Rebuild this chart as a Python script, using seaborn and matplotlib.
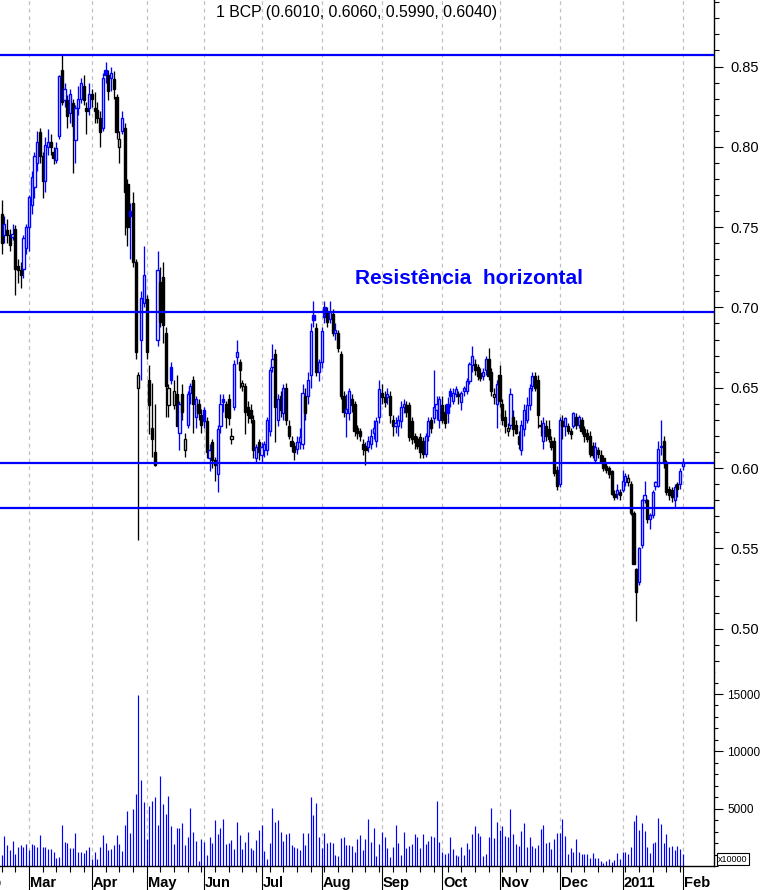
import numpy as np
import pandas as pd
import matplotlib
matplotlib.use("Agg")
import matplotlib.pyplot as plt
import matplotlib.transforms as mtransforms
from matplotlib.ticker import MultipleLocator, FixedLocator, FormatStrFormatter, NullFormatter
import seaborn as sns

# ---------------- data ----------------
opens = [
    .758, .745, .748, .745, .744, .749, .726, .723, .724, .737,
    .750, .764, .775, .790, .809, .794, .779, .800, .803, .797, .792, .807, .848, .829, .829, .821, .827, .804, .824, .830, .838, .824, .824,
    .833, .824, .823, .818, .812, .848, .845, .843, .842, .831, .800, .810, .812, .777, .760, .765, .728, .650, .680, .703,
    .705, .655, .625, .610, .680, .716, .719, .684, .639, .663, .639, .646, .622, .646, .611, .627, .647, .655, .632, .640, .633,
    .636, .629, .606, .616, .605, .596, .626, .643, .640, .643, .618, .638, .669, .666, .651, .651, .638, .636, .630, .606, .616,
    .608, .611, .611, .623, .663, .671, .630, .645, .634, .650, .626, .617, .614, .612, .616, .615, .645, .645, .658, .695, .687, .660,
    .666, .700, .697, .693, .696, .684, .684, .671, .645, .634, .634, .643, .640, .625, .623, .615, .614, .613, .615, .622, .617, .632,
    .647, .644, .644, .645, .630, .626, .626, .629, .638, .639, .639, .629, .620, .618, .619, .617, .609, .620, .630, .631, .636, .630,
    .639, .635, .640, .648, .642, .646, .646, .641, .648, .648, .654, .664, .665, .663, .659, .657, .661, .668, .660, .644, .640,
    .658, .640, .632, .623, .627, .632, .627, .620, .611, .624, .630, .639, .651, .657, .655, .626, .617, .626, .624, .617, .617, .599,
    .590, .629, .626, .626, .623, .626, .632, .627, .630, .624, .622, .620, .614, .605, .611, .608, .606, .601, .600, .598, .584, .584, .585,
    .586, .591, .591, .590, .572, .537, .529, .552, .580, .580, .568, .571, .589, .589, .614, .617, .603, .587, .586, .580, .590, .590,
    .601,
]
highs = [
    .767, .757, .755, .749, .752, .751, .730, .728, .745, .752,
    .770, .785, .797, .810, .812, .797, .806, .811, .808, .800, .803, .845, .858, .840, .832, .836, .830, .826, .838, .843, .845, .828, .840,
    .836, .834, .828, .822, .846, .853, .848, .850, .847, .833, .810, .822, .815, .780, .765, .772, .730, .660, .710, .738,
    .708, .664, .653, .640, .735, .725, .728, .688, .652, .666, .655, .658, .642, .652, .622, .648, .653, .657, .645, .643, .637,
    .638, .632, .615, .618, .607, .627, .646, .646, .642, .646, .625, .667, .680, .668, .655, .653, .642, .640, .633, .615, .618,
    .616, .617, .632, .663, .677, .674, .646, .648, .652, .653, .630, .620, .616, .620, .625, .652, .650, .660, .690, .704, .690, .668,
    .688, .704, .700, .704, .699, .690, .686, .673, .648, .646, .650, .646, .642, .627, .625, .618, .616, .620, .624, .630, .632, .655,
    .652, .648, .650, .648, .633, .632, .633, .642, .643, .642, .641, .632, .622, .620, .622, .619, .622, .632, .632, .661, .645, .645,
    .645, .640, .644, .650, .650, .651, .648, .648, .651, .656, .666, .676, .668, .665, .662, .662, .670, .675, .662, .650, .655,
    .664, .643, .636, .628, .650, .636, .630, .623, .630, .640, .644, .652, .660, .660, .658, .630, .632, .630, .630, .620, .619, .601,
    .632, .633, .632, .628, .625, .635, .634, .633, .632, .626, .624, .623, .616, .616, .613, .611, .608, .603, .601, .599, .586, .590, .587,
    .599, .597, .596, .592, .573, .538, .551, .581, .592, .581, .572, .586, .592, .617, .630, .620, .605, .589, .588, .590, .591, .600,
    .606,
]
lows = [
    .733, .740, .740, .735, .742, .708, .715, .712, .718, .733,
    .735, .758, .768, .785, .790, .768, .772, .795, .795, .789, .790, .805, .826, .825, .812, .815, .784, .790, .820, .827, .826, .808, .820,
    .825, .815, .815, .800, .810, .840, .829, .835, .830, .805, .790, .808, .745, .738, .730, .725, .668, .555, .655, .700,
    .668, .621, .607, .601, .676, .688, .678, .632, .632, .652, .637, .626, .611, .630, .607, .625, .640, .622, .625, .630, .622,
    .625, .606, .598, .600, .592, .585, .622, .635, .625, .627, .615, .636, .665, .650, .648, .621, .628, .628, .606, .604, .605,
    .604, .607, .608, .620, .660, .616, .626, .632, .630, .627, .618, .610, .605, .609, .612, .612, .630, .640, .650, .688, .657, .654,
    .662, .690, .688, .690, .682, .680, .672, .643, .632, .619, .630, .635, .620, .618, .617, .608, .602, .610, .612, .618, .613, .628,
    .640, .638, .640, .628, .620, .622, .620, .625, .634, .632, .617, .615, .612, .612, .606, .606, .607, .617, .622, .628, .630, .625,
    .628, .625, .628, .638, .640, .644, .640, .636, .645, .646, .652, .660, .658, .655, .654, .655, .658, .655, .645, .640, .625,
    .638, .627, .622, .620, .624, .620, .621, .612, .608, .620, .628, .636, .648, .648, .625, .620, .612, .617, .616, .611, .595, .586,
    .588, .618, .620, .621, .618, .625, .624, .625, .621, .616, .616, .607, .606, .603, .606, .603, .598, .597, .594, .583, .580, .581, .580,
    .585, .589, .589, .571, .540, .505, .527, .550, .578, .566, .562, .569, .586, .588, .608, .600, .583, .580, .579, .575, .582, .587,
    .599,
]
closes = [
    .740, .752, .745, .739, .746, .724, .723, .720, .743, .750,
    .769, .781, .794, .803, .794, .779, .801, .803, .800, .793, .799, .844, .828, .836, .819, .833, .813, .824, .830, .840, .829, .822, .833,
    .830, .822, .818, .809, .843, .845, .835, .846, .836, .809, .805, .818, .772, .750, .757, .728, .672, .658, .706, .720,
    .672, .639, .618, .602, .723, .691, .689, .651, .650, .655, .648, .626, .640, .635, .618, .646, .651, .640, .643, .634, .627,
    .629, .610, .611, .605, .602, .624, .640, .641, .632, .631, .620, .665, .672, .661, .653, .635, .633, .631, .611, .613, .610,
    .613, .615, .630, .661, .668, .638, .643, .636, .650, .630, .620, .614, .610, .616, .619, .647, .634, .655, .685, .692, .660, .666,
    .685, .694, .691, .697, .684, .686, .675, .645, .635, .637, .648, .639, .623, .622, .620, .612, .611, .617, .620, .625, .629, .649,
    .644, .641, .646, .633, .626, .628, .630, .638, .640, .635, .619, .618, .616, .614, .610, .609, .620, .629, .625, .638, .640, .643,
    .630, .628, .634, .645, .647, .649, .645, .647, .650, .654, .665, .670, .661, .657, .656, .660, .668, .657, .648, .646, .652,
    .642, .630, .626, .625, .646, .624, .622, .615, .627, .636, .639, .650, .657, .650, .633, .627, .628, .620, .618, .613, .597, .589,
    .630, .626, .631, .623, .621, .634, .627, .632, .623, .620, .618, .609, .608, .613, .609, .604, .600, .599, .596, .584, .582, .586, .583,
    .592, .595, .594, .572, .540, .523, .550, .580, .583, .568, .571, .585, .591, .612, .613, .603, .585, .583, .582, .588, .587, .598,
    .604,
]
volumes = [
    957, 2610, 1827, 1392, 2175, 1044, 1653, 1827, 1653, 1914,
    1392, 1914, 1827, 1653, 2697, 1653, 1653, 1479, 1479, 1218,
    696, 783, 3567, 2088, 2001, 1566, 1566, 2871, 1218, 1218,
    1131, 1392, 1653, 609, 1218, 609, 1653, 2697, 2001, 1392,
    1479, 1827, 2697, 1914, 1305, 3567, 4785, 2871, 4959, 6264,
    14877, 7482, 5568, 2349, 5220, 5655, 6003, 3567, 7830, 5394,
    4524, 6090, 3480, 1914, 3306, 3306, 3741, 1827, 2523, 5046,
    2958, 2175, 435, 2349, 2088, 957, 2523, 2001, 3972, 2784,
    3306, 4089, 1914, 2001, 2262, 1479, 3828, 2697, 1479, 2088,
    2958, 1566, 1392, 2262, 3132, 3567, 1305, 609, 2001, 5046,
    3828, 3972, 2958, 2175, 2784, 2871, 1827, 1653, 1566, 1392,
    2871, 1827, 2871, 6003, 4437, 5481, 2523, 1566, 2871, 2001,
    2088, 2001, 957, 870, 2436, 2523, 1827, 1827, 1740, 1218,
    2349, 2697, 1392, 2349, 4089, 2088, 3306, 870, 1914,
    2958, 2523, 1566, 783, 1653, 3567, 2001, 957, 2958, 1566,
    1740, 1914, 2784, 2523, 1566, 2784, 1914, 2175, 2610, 2523,
    5655, 2088, 1218, 1044, 1131, 2523, 1479, 957, 870, 1653,
    957, 2001, 1479, 2784, 3480, 2871, 2610, 870, 1044, 2523,
    5046, 2436, 3828, 3132, 3480, 2610, 2523, 4959, 2784, 1914,
    1740, 3045, 3741, 1653, 2523, 1740, 1566, 1800, 3219, 3567, 2001,
    2088, 1479, 2349, 2871, 2871, 4089, 2610, 1044, 1566, 1218,
    2349, 1218, 1044, 1044, 1044, 696, 1131, 696, 696, 435,
    261, 400, 609, 348, 522, 1131, 609, 1218, 1218, 1044, 1653,
    3915, 4437, 3132, 3741, 3045, 1653, 1131, 2001, 2088, 4176,
    3654, 2001, 2784, 1653, 1740, 1392, 1740, 1479, 1044,
]

month_pos = [-10, 10, 33, 53, 74, 95, 117, 139, 161, 182, 204, 227, 249]
month_labels = ["Feb", "Mar", "Apr", "May", "Jun", "Jul", "Aug", "Sep",
                "Oct", "Nov", "Dec", "2011", "Feb"]
week_pos = list(range(0, 33, 5)) + list(range(38, 250, 5))
levels = [0.8572, 0.6973, 0.6029, 0.5749]
title_text = "1 BCP (0.6010, 0.6060, 0.5990, 0.6040)"
annotation_text = "Resistência  horizontal"
price_ticks = [0.50, 0.55, 0.60, 0.65, 0.70, 0.75, 0.80, 0.85]
vol_ticks = [5000, 10000, 15000]

BLUE = "#0000ff"
BLACK = "#000000"
GRID = "#c0c0c0"

# ---------------- styling ----------------
sns.set_theme(style="white")
plt.rcParams['font.family'] = ['Liberation Sans', 'DejaVu Sans']

df = pd.DataFrame({"open": opens, "high": highs, "low": lows,
                   "close": closes, "volume": volumes})
df["idx"] = np.arange(len(df))
prev_close = df["close"].shift(1).fillna(df["open"])
df["color"] = np.where(df["close"] >= prev_close, BLUE, BLACK)
df["face"] = np.where(df["close"] >= df["open"], "white", df["color"])
df["bottom"] = df[["open", "close"]].min(axis=1)
df["height"] = (df["close"] - df["open"]).abs().clip(lower=0.0008)

W, H = 764, 890
fig = plt.figure(figsize=(W / 100, H / 100), dpi=100)
fig.patch.set_facecolor("white")
ax = fig.add_axes([0, (H - 672) / H, 714 / W, 672 / H])
axv = fig.add_axes([0, (H - 866) / H, 714 / W, (866 - 672) / H], sharex=ax)

for a in (ax, axv):
    a.set_facecolor("white")
    for m in month_pos:
        a.axvline(m, color=GRID, lw=0.9, ls=(0, (3, 3)), zorder=0)

# candles
ax.vlines(df["idx"], df["low"], df["high"], colors=df["color"], lw=0.95, zorder=2)
ax.bar(df["idx"], df["height"], bottom=df["bottom"], width=0.8,
       color=df["face"], edgecolor=df["color"], linewidth=1.0, zorder=3)

for lv in levels:
    ax.axhline(lv, color=BLUE, lw=1.6, zorder=4)

ax.text(0.5, 1 - 12 / 672, title_text, transform=ax.transAxes, ha="center",
        va="center", fontsize=11.4, color=BLACK)
ax.text(129.2, 0.7177, annotation_text, ha="left", va="center",
        fontsize=15, fontweight="bold", color=BLUE, zorder=5)

# volume
axv.vlines(df["idx"], 0, df["volume"], colors=BLUE, lw=0.85, zorder=2)

# axes / ticks
ax.set_xlim(-0.585, 260.4)
ax.set_ylim(0.47298, 0.89141)
axv.set_ylim(0, 16919)

for a in (ax, axv):
    a.yaxis.tick_right()
    for s in ("left", "top"):
        a.spines[s].set_visible(False)
    a.spines["right"].set_color(BLACK)
    a.spines["right"].set_linewidth(1.0)

ax.spines["bottom"].set_visible(False)
ax.tick_params(axis="x", which="both", bottom=False, labelbottom=False)
ax.yaxis.set_major_locator(FixedLocator(price_ticks))
ax.yaxis.set_minor_locator(MultipleLocator(0.01))
ax.yaxis.set_major_formatter(FormatStrFormatter("%.2f"))
ax.tick_params(axis="y", which="major", direction="out", length=6.5, width=0.8,
               pad=5, labelsize=10.5, colors=BLACK, right=True)
ax.tick_params(axis="y", which="minor", direction="out", length=3.6, width=0.8,
               colors=BLACK, right=True)

axv.spines["bottom"].set_color(BLACK)
axv.spines["bottom"].set_linewidth(1.0)
axv.yaxis.set_major_locator(FixedLocator(vol_ticks))
axv.yaxis.set_minor_locator(MultipleLocator(1000))
axv.tick_params(axis="y", which="major", direction="out", length=6.5, width=0.8,
                pad=3, labelsize=8.5, colors=BLACK, right=True)
axv.tick_params(axis="y", which="minor", direction="out", length=3.2, width=0.8,
                colors=BLACK, right=True)

axv.xaxis.set_major_locator(FixedLocator(month_pos))
axv.xaxis.set_minor_locator(FixedLocator(week_pos))
axv.xaxis.set_major_formatter(NullFormatter())
axv.tick_params(axis="x", which="major", direction="out", length=18, width=0.8,
                colors=BLACK, bottom=True)
axv.tick_params(axis="x", which="minor", direction="out", length=4.5, width=0.8,
                colors=BLACK, bottom=True)

trans = mtransforms.blended_transform_factory(axv.transData, axv.transAxes)
for pos, lab in zip(month_pos, month_labels):
    axv.text(pos + 0.4, -21 / 194, lab, transform=trans, ha="left",
             va="baseline", fontsize=10.5, fontweight="bold", color=BLACK,
             clip_on=False)

axv.text(1.0056, 7 / 194, "x10000", transform=axv.transAxes, ha="left",
         va="center", fontsize=6.5, color=BLACK,
         bbox=dict(boxstyle="square,pad=0.15", facecolor="white",
                   edgecolor=BLACK, linewidth=0.8))

fig.savefig("out.png", dpi=100, facecolor="white")
